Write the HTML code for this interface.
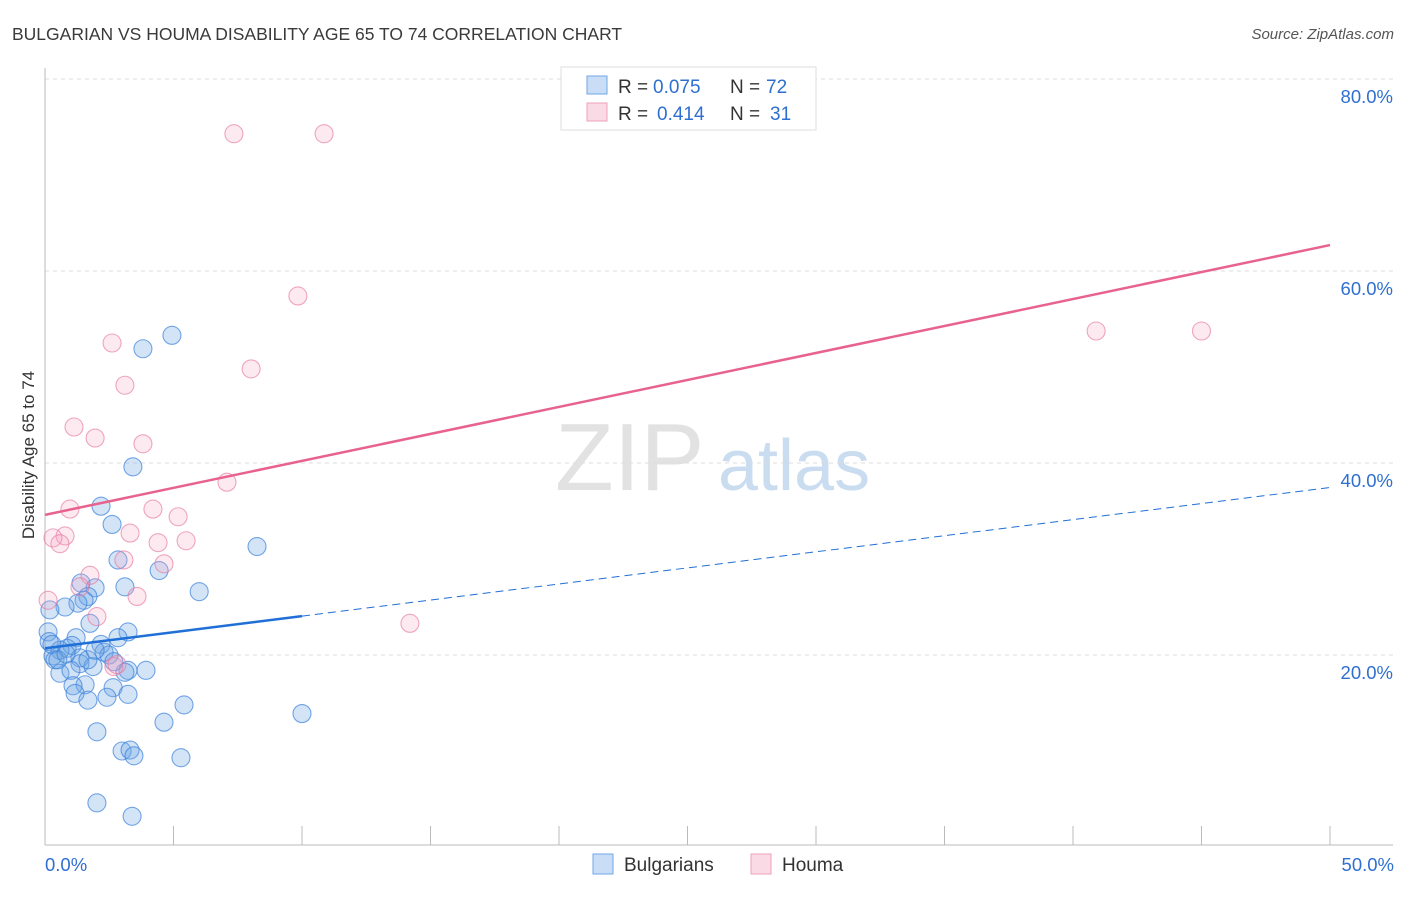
<!DOCTYPE html>
<html><head><meta charset="utf-8"><style>
body{margin:0;background:#fff;font-family:"Liberation Sans",sans-serif;}
svg text{font-family:"Liberation Sans",sans-serif;}
</style></head><body>
<svg id="chart" width="1406" height="892">
<text x="12" y="40" font-size="17.5" fill="#3a3a3a">BULGARIAN VS HOUMA DISABILITY AGE 65 TO 74 CORRELATION CHART</text>
<text x="1394" y="39" font-size="15" fill="#555" text-anchor="end" font-style="italic">Source: ZipAtlas.com</text>
<g><text x="555" y="490" font-size="96" font-family="Liberation Serif" fill="#e2e2e2">ZIP</text><text x="718" y="490" font-size="72" fill="#c9dcf0">atlas</text></g>
<g id="grid"></g><g id="axes"></g><g id="pts"></g><g id="lines"></g>
<text transform="translate(34,455) rotate(-90)" font-size="17" fill="#333" text-anchor="middle">Disability Age 65 to 74</text>
<g>
<rect x="561" y="67" width="255" height="63" fill="#fff" stroke="#ddd"/>
<rect x="587" y="76" width="20" height="18" fill="rgba(100,160,230,0.35)" stroke="#6fa6e6"/>
<rect x="587" y="103" width="20" height="18" fill="rgba(240,150,180,0.35)" stroke="#eea0ba"/>
<text y="93" font-size="19" fill="#333"><tspan x="618">R =</tspan><tspan x="653" fill="#2f6fd0">0.075</tspan><tspan x="730">N =</tspan><tspan x="766" fill="#2f6fd0">72</tspan></text>
<text y="120" font-size="19" fill="#333"><tspan x="618">R =</tspan><tspan x="657" fill="#2f6fd0">0.414</tspan><tspan x="730">N =</tspan><tspan x="770" fill="#2f6fd0">31</tspan></text>
</g>
<g>
<rect x="593" y="854" width="20" height="20" fill="rgba(100,160,230,0.35)" stroke="#6fa6e6"/>
<text x="624" y="871" font-size="19" fill="#333">Bulgarians</text>
<rect x="751" y="854" width="20" height="20" fill="rgba(240,150,180,0.35)" stroke="#eea0ba"/>
<text x="782" y="871" font-size="19" fill="#333">Houma</text>
</g>
</svg>
<script>
const blueX=[4.94,3.81,3.42,2.18,2.61,8.25,2.84,4.44,3.11,1.95,1.4,6.0,1.67,1.52,1.28,0.78,0.19,1.75,3.23,0.12,1.21,2.84,2.18,0.16,0.86,1.05,0.58,2.3,2.49,0.31,0.39,1.36,1.36,1.87,3.23,3.93,3.11,0.58,1.01,1.56,1.09,2.65,1.17,3.23,2.41,1.67,5.41,10.0,4.63,2.02,3.0,3.31,3.46,5.29,2.02,3.39,0.27,0.5,0.82,1.67,2.68,1.95];
const blueY=[53.3,51.9,39.6,35.5,33.6,31.3,29.9,28.8,27.1,27.0,27.5,26.6,26.1,25.7,25.4,25.0,24.7,23.3,22.4,22.4,21.8,21.8,21.1,21.4,20.7,21.0,20.5,20.3,20.0,19.9,19.5,19.7,19.1,18.8,18.4,18.4,18.2,18.1,18.4,16.9,16.8,16.6,16.0,15.9,15.6,15.3,14.8,13.9,13.0,12.0,10.0,10.1,9.5,9.3,4.6,3.2,21.1,19.5,20.1,19.5,19.3,20.5];
const pinkX=[7.35,10.86,9.84,40.9,45.0,2.61,8.02,3.11,1.13,1.95,3.81,7.08,0.97,4.2,5.18,3.31,0.78,0.31,0.58,4.4,5.49,3.07,4.63,1.75,1.36,3.58,0.12,2.02,14.2,2.68,2.8];
const pinkY=[74.3,74.3,57.4,53.75,53.75,52.5,49.8,48.1,43.75,42.6,42.0,38.0,35.2,35.2,34.4,32.7,32.4,32.2,31.6,31.7,31.9,29.9,29.5,28.3,27.1,26.1,25.7,24.0,23.3,18.8,19.0];
const yTicks=[20,40,60,80];
const xTickLabels=["0.0%","50.0%"];
const blueTrend=[20.7,0.335]; const blueSolidEnd=10;
const pinkTrend=[34.6,0.562];
const X=v=>45+v*25.7, Y=v=>847-v*9.6;
const NS="http://www.w3.org/2000/svg";
function mk(p,t,a){const e=document.createElementNS(NS,t);for(const k in a)e.setAttribute(k,a[k]);document.getElementById(p).appendChild(e);return e;}
yTicks.forEach(v=>{
 const l=mk('grid','line',{x1:45,x2:1393,y1:Y(v),y2:Y(v),stroke:'#ddd','stroke-dasharray':'4,4'});
 
 
 const t=mk('grid','text',{x:1393,y:Y(v)+24,'font-size':18.5,fill:'#2f6fd0','text-anchor':'end'});t.textContent=v.toFixed(1)+'%';
 
 
});
mk('axes','line',{x1:45,x2:45,y1:68,y2:845,stroke:'#bbb'});
mk('axes','line',{x1:45,x2:1393,y1:845,y2:845,stroke:'#bbb'});
for(let i=0;i<=10;i++){mk('axes','line',{x1:X(i*5),x2:X(i*5),y1:826,y2:845,stroke:'#bbb'});}
[[0,'start',45],[50,'end',1394]].forEach((d,i)=>{const t=mk('axes','text',{x:d[2],y:871,'font-size':18.5,fill:'#2f6fd0','text-anchor':d[1]});t.textContent=xTickLabels[i];
 
 });
blueX.forEach((x,i)=>{const c=mk('pts','circle',{cx:X(x),cy:Y(blueY[i]),r:9,fill:'rgba(110,165,230,0.3)',stroke:'rgba(60,130,220,0.7)','stroke-width':1.1});
 
 });
pinkX.forEach((x,i)=>{const c=mk('pts','circle',{cx:X(x),cy:Y(pinkY[i]),r:9,fill:'rgba(245,160,190,0.22)',stroke:'rgba(230,120,160,0.65)','stroke-width':1.1});
 
 });
const bf=x=>blueTrend[0]+blueTrend[1]*x, pf=x=>pinkTrend[0]+pinkTrend[1]*x;
let l=mk('lines','line',{x1:X(0),y1:Y(bf(0)),x2:X(blueSolidEnd),y2:Y(bf(blueSolidEnd)),stroke:'#1f6fd6','stroke-width':2.5});


l=mk('lines','line',{x1:X(blueSolidEnd),y1:Y(bf(blueSolidEnd)),x2:X(50),y2:Y(bf(50)),stroke:'#1f6fd6','stroke-width':1,'stroke-dasharray':'8,5'});


l=mk('lines','line',{x1:X(0),y1:Y(pf(0)),x2:X(50),y2:Y(pf(50)),stroke:'#e8628e','stroke-width':2.5});


</script>
</body></html>
